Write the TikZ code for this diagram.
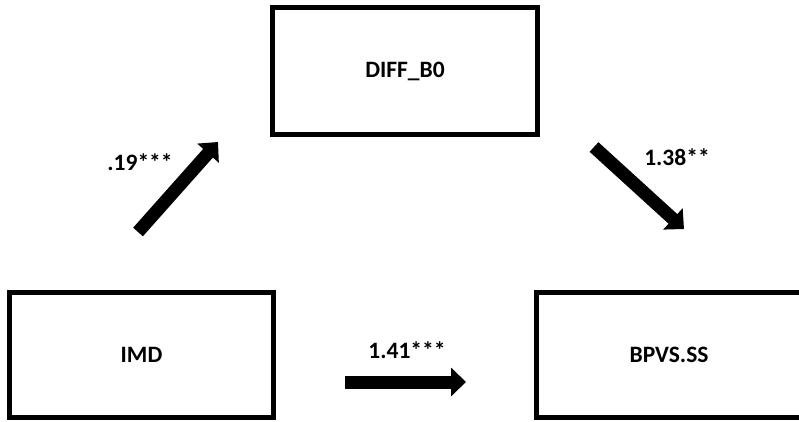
\documentclass[tikz,border=0pt]{standalone}
\usepackage{fontspec}
\setmainfont{Carlito}
\usetikzlibrary{arrows.meta}
\tikzset{
  x=1pt, y=-1pt,
  varbox/.style={draw=black, line width=5pt, fill=white, inner sep=0pt,
    font=\fontsize{23.5}{26}\selectfont\bfseries, text=black},
  coef/.style={font=\fontsize{23.5}{26}\selectfont\bfseries, text=black, inner sep=0pt},
  blockarrow/.style={draw=black, line width=13pt,
    -{Triangle[width=28pt,length=15pt]}},
}
\begin{document}
\begin{tikzpicture}
\useasboundingbox (0,0) rectangle (799,422);
\clip (0,0) rectangle (799,422);
\fill[white] (0,0) rectangle (799,422);
\node[varbox, minimum width=265pt, minimum height=127pt] (diff) at (405,71) {DIFF\_B0};
\node[varbox, minimum width=264pt, minimum height=125pt] (imd) at (141.5,355) {IMD};
\node[varbox, minimum width=266pt, minimum height=125pt] (bpvs) at (669,355) {BPVS.SS};
\coordinate (a1s) at (138,232);
\coordinate (a1e) at (218,142);
\coordinate (a2s) at (594,147);
\coordinate (a2e) at (684,229);
\coordinate (a3s) at (345,382);
\coordinate (a3e) at (466,382);
\draw[blockarrow] (a1s) -- (a1e);
\draw[blockarrow] (a2s) -- (a2e);
\draw[blockarrow] (a3s) -- (a3e);
\node[coef] (c1) at (140,162) {.19***};
\node[coef] (c2) at (677,157) {1.38**};
\node[coef] (c3) at (407,350) {1.41***};
\end{tikzpicture}
\end{document}
